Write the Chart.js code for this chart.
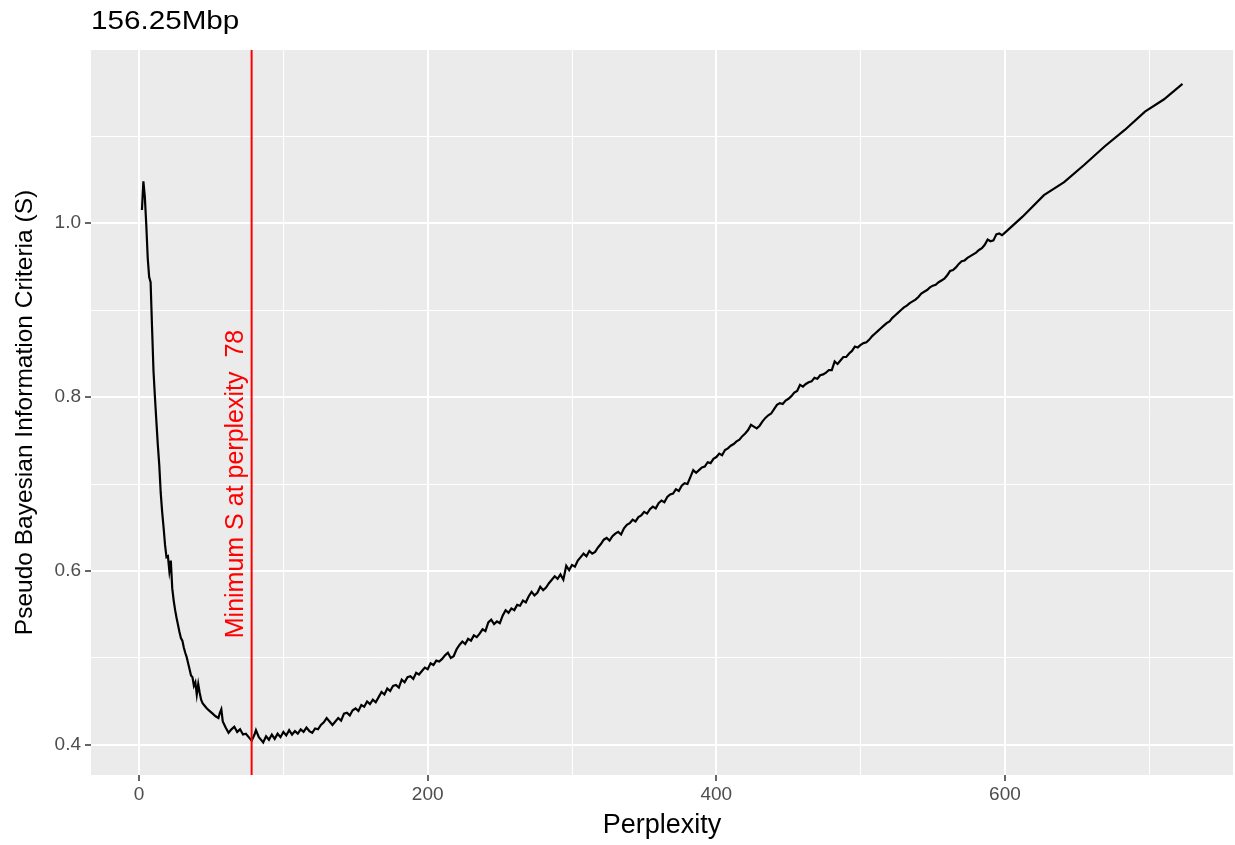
<!DOCTYPE html>
<html>
<head>
<meta charset="utf-8">
<script src="https://cdn.jsdelivr.net/npm/chart.js@4.4.1/dist/chart.umd.min.js"></script>
<style>
  body { margin: 0; background: #fff; }
  canvas { display: block; }
</style>
</head>
<body>
<canvas id="bicChart" width="1235" height="845"></canvas>
<script>
// Data
const chartTitle = "156.25Mbp";
const minPerplexity = 78;

const perplexity = [
  2, 3, 4, 5, 6, 7, 8, 9, 10, 11, 12, 13, 14, 15, 16, 17, 18, 19, 20, 21, 22, 23, 24, 25, 26, 27, 28, 29, 30,
  31, 32, 33, 34, 35, 36, 37, 38, 39, 40, 41, 42, 43, 44, 45, 47, 49, 51, 53, 55, 56, 57, 58, 60, 62, 64, 66, 68,
  70, 72, 74, 76, 78, 80, 81, 83, 85, 86, 88, 90, 92, 94, 96, 98, 100, 102, 104, 106, 108, 110, 112, 114, 116,
  118, 120, 122, 124, 126, 128, 130, 132, 134, 136, 138, 140, 142, 144, 146, 148, 150, 152, 154, 156, 158, 160,
  162, 164, 166, 168, 170, 172, 174, 176, 178, 180, 182, 184, 186, 188, 190, 192, 194, 196, 198, 200, 202, 204,
  206, 208, 210, 212, 214, 216, 218, 220, 222, 224, 226, 228, 230, 232, 234, 236, 238, 240, 242, 244, 246, 248,
  250, 252, 254, 256, 258, 260, 262, 264, 266, 268, 270, 272, 274, 276, 278, 280, 282, 284, 286, 288, 290, 292,
  294, 296, 298, 300, 302, 304, 306, 308, 310, 312, 314, 316, 318, 320, 322, 324, 326, 328, 330, 332, 334, 336,
  338, 340, 342, 344, 346, 348, 350, 352, 354, 356, 358, 360, 362, 364, 366, 368, 370, 372, 374, 376, 378, 380,
  382, 384, 386, 388, 390, 392, 394, 396, 398, 400, 402, 404, 406, 408, 410, 412, 414, 416, 418, 420, 422, 424,
  426, 428, 430, 432, 434, 436, 438, 440, 442, 444, 446, 448, 450, 452, 454, 456, 458, 460, 462, 464, 466, 468,
  470, 472, 474, 476, 478, 480, 482, 484, 486, 488, 490, 492, 494, 496, 498, 500, 502, 504, 506, 508, 510, 512,
  514, 516, 518, 520, 522, 524, 526, 528, 530, 532, 534, 536, 538, 540, 542, 544, 546, 548, 550, 552, 554, 556,
  558, 560, 562, 564, 566, 568, 570, 572, 574, 576, 578, 580, 582, 584, 586, 588, 590, 592, 594, 596, 598, 600,
  612, 627, 641, 655, 669, 683, 697, 710, 723
];

const sValues = [
  1.015, 1.048, 1.030, 0.998, 0.960, 0.938, 0.932, 0.880, 0.830, 0.800, 0.772, 0.745, 0.722, 0.690, 0.668, 0.650,
  0.630, 0.616, 0.617, 0.600, 0.612, 0.580, 0.566, 0.555, 0.546, 0.538, 0.530, 0.523, 0.520,
  0.512, 0.506, 0.501, 0.494, 0.487, 0.480, 0.478, 0.468, 0.472, 0.458, 0.470, 0.460, 0.452, 0.448, 0.446, 0.442,
  0.439, 0.436, 0.433, 0.431, 0.437, 0.441, 0.427, 0.420, 0.414, 0.418, 0.421, 0.415,
  0.418, 0.412, 0.413, 0.409, 0.405, 0.412, 0.417, 0.409, 0.405, 0.403, 0.410, 0.406, 0.412, 0.407, 0.413, 0.409,
  0.415, 0.411, 0.417, 0.412, 0.416, 0.413, 0.418, 0.415, 0.420,
  0.416, 0.414, 0.419, 0.418, 0.423, 0.426, 0.431, 0.427, 0.423, 0.427, 0.431, 0.428, 0.436, 0.437, 0.434, 0.440,
  0.442, 0.439, 0.446, 0.444, 0.450, 0.447,
  0.452, 0.449, 0.455, 0.461, 0.458, 0.465, 0.462, 0.468, 0.469, 0.466, 0.475, 0.472, 0.478, 0.479, 0.476, 0.483,
  0.481, 0.485, 0.489, 0.487, 0.494, 0.492,
  0.497, 0.496, 0.499, 0.503, 0.506, 0.500, 0.502, 0.510, 0.515, 0.519, 0.516, 0.522, 0.520, 0.526, 0.524, 0.528,
  0.533, 0.531, 0.541, 0.544, 0.539, 0.542,
  0.540, 0.549, 0.555, 0.552, 0.557, 0.555, 0.561, 0.560, 0.566, 0.564, 0.571, 0.576, 0.572, 0.575, 0.582, 0.578,
  0.581, 0.586, 0.590, 0.594, 0.591, 0.596,
  0.590, 0.606, 0.601, 0.607, 0.605, 0.612, 0.616, 0.620, 0.617, 0.623, 0.620, 0.622, 0.627, 0.631, 0.636, 0.638,
  0.635, 0.640, 0.643, 0.645, 0.642, 0.649,
  0.653, 0.655, 0.659, 0.657, 0.662, 0.664, 0.668, 0.666, 0.671, 0.674, 0.672, 0.678, 0.681, 0.679, 0.685, 0.688,
  0.689, 0.694, 0.692, 0.698, 0.701, 0.700,
  0.708, 0.716, 0.713, 0.716, 0.719, 0.720, 0.725, 0.724, 0.729, 0.731, 0.735, 0.733, 0.739, 0.741, 0.744, 0.746,
  0.749, 0.751, 0.755, 0.758, 0.762, 0.768,
  0.766, 0.764, 0.767, 0.772, 0.776, 0.779, 0.781, 0.786, 0.791, 0.793, 0.792, 0.796, 0.798, 0.801, 0.805, 0.807,
  0.814, 0.812, 0.815, 0.817, 0.818, 0.822,
  0.821, 0.825, 0.826, 0.828, 0.831, 0.831, 0.841, 0.838, 0.842, 0.846, 0.846, 0.850, 0.853, 0.858, 0.857, 0.860,
  0.862, 0.863, 0.866, 0.870, 0.873, 0.876,
  0.879, 0.882, 0.885, 0.887, 0.891, 0.894, 0.897, 0.900, 0.903, 0.905, 0.908, 0.910, 0.912, 0.915, 0.919, 0.921,
  0.923, 0.926, 0.928, 0.929, 0.932, 0.934,
  0.936, 0.940, 0.945, 0.946, 0.949, 0.953, 0.956, 0.957, 0.960, 0.962, 0.964, 0.966, 0.969, 0.971, 0.975, 0.981,
  0.979, 0.980, 0.987, 0.988, 0.986, 0.989,
  1.007, 1.032, 1.047, 1.067, 1.088, 1.107, 1.128, 1.142, 1.160
];

const xTicks = [0, 100, 200, 300, 400, 500, 600, 700];
const xLabelTicks = [0, 200, 400, 600];
const yTicks = [0.4, 0.5, 0.6, 0.7, 0.8, 0.9, 1.0, 1.1];
const yLabelTicks = [0.4, 0.6, 0.8, 1.0];

const points = perplexity.map((p, i) => ({ x: p, y: sValues[i] }));

const isMajor = (list, v) => list.some(t => Math.abs(t - v) < 1e-9);
const fontFamily = "'Liberation Sans', Arial, sans-serif";

// grey panel, title and the red minimum marker
const ggPanel = {
  id: "ggPanel",
  beforeDraw(chart) {
    const { ctx, chartArea } = chart;
    ctx.save();
    ctx.fillStyle = "#EBEBEB";
    ctx.fillRect(chartArea.left, chartArea.top, chartArea.right - chartArea.left, chartArea.bottom - chartArea.top);
    ctx.restore();
  },
  afterDatasetsDraw(chart) {
    const { ctx, chartArea, scales } = chart;
    const xPix = scales.x.getPixelForValue(minPerplexity);
    ctx.save();
    ctx.strokeStyle = "#FF0000";
    ctx.lineWidth = 2;
    ctx.beginPath();
    ctx.moveTo(xPix, chartArea.top);
    ctx.lineTo(xPix, chartArea.bottom);
    ctx.stroke();

    ctx.translate(scales.x.getPixelForValue(67), scales.y.getPixelForValue(0.7));
    ctx.rotate(-Math.PI / 2);
    ctx.fillStyle = "#FF0000";
    ctx.font = "25px " + fontFamily;
    ctx.textAlign = "center";
    ctx.textBaseline = "middle";
    ctx.fillText("Minimum S at perplexity  " + minPerplexity, 0, 0);
    ctx.restore();

    ctx.save();
    ctx.fillStyle = "#000000";
    ctx.font = "26px " + fontFamily;
    ctx.textAlign = "left";
    ctx.textBaseline = "alphabetic";
    ctx.translate(chartArea.left, 29);
    ctx.scale(1.14, 1);
    ctx.fillText(chartTitle, 0, 0);
    ctx.restore();
  }
};

new Chart(document.getElementById("bicChart"), {
  type: "line",
  data: {
    datasets: [{
      data: points,
      borderColor: "#000000",
      borderWidth: 2.2,
      pointRadius: 0,
      tension: 0,
      fill: false
    }]
  },
  options: {
    responsive: false,
    animation: false,
    devicePixelRatio: 1,
    layout: { padding: { top: 50, right: 2, left: 0, bottom: 0 } },
    plugins: { legend: { display: false }, tooltip: { enabled: false } },
    scales: {
      x: {
        type: "linear",
        min: -33.3,
        max: 758,
        afterFit: s => { s.height = 70; },
        afterBuildTicks: s => { s.ticks = xTicks.map(v => ({ value: v })); },
        border: { display: false },
        grid: {
          color: "#FFFFFF",
          lineWidth: c => isMajor(xLabelTicks, c.tick.value) ? 2 : 1,
          tickColor: c => isMajor(xLabelTicks, c.tick.value) ? "#333333" : "rgba(0,0,0,0)",
          tickLength: 6,
          tickWidth: 1.5
        },
        ticks: {
          color: "#4D4D4D",
          font: { family: fontFamily, size: 19 },
          padding: 2,
          maxRotation: 0,
          autoSkip: false,
          callback: v => isMajor(xLabelTicks, v) ? String(v) : ""
        },
        title: {
          display: true,
          text: "Perplexity",
          color: "#000000",
          font: { family: fontFamily, size: 27 },
          padding: { top: 0, bottom: 3 }
        }
      },
      y: {
        type: "linear",
        min: 0.3655,
        max: 1.1989,
        afterFit: s => { s.width = 91; },
        afterBuildTicks: s => { s.ticks = yTicks.map(v => ({ value: v })); },
        border: { display: false },
        grid: {
          color: "#FFFFFF",
          lineWidth: c => isMajor(yLabelTicks, c.tick.value) ? 2 : 1,
          tickColor: c => isMajor(yLabelTicks, c.tick.value) ? "#333333" : "rgba(0,0,0,0)",
          tickLength: 6,
          tickWidth: 1.5
        },
        ticks: {
          color: "#4D4D4D",
          font: { family: fontFamily, size: 19 },
          padding: 4,
          autoSkip: false,
          callback: v => isMajor(yLabelTicks, v) ? v.toFixed(1) : ""
        },
        title: {
          display: true,
          text: "Pseudo Bayesian Information Criteria (S)",
          color: "#000000",
          font: { family: fontFamily, size: 24.5 },
          padding: { top: 11, bottom: 0 }
        }
      }
    }
  },
  plugins: [ggPanel]
});
</script>
</body>
</html>
